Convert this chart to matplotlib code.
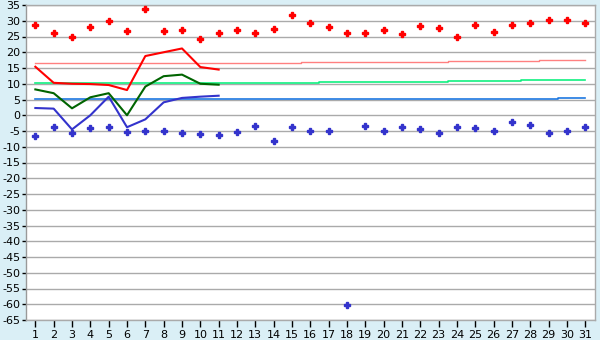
import numpy as np
import matplotlib
matplotlib.use('Agg')
import matplotlib.pyplot as plt

plt.rcParams['axes.unicode_minus'] = False
plt.rcParams['font.family'] = ['DejaVu Sans']

# Days of the month
days = np.arange(1, 32)

# Daily extreme points (max in red, min in blue)
max_pts = [28.5, 26.0, 25.0, 27.9, 30.0, 26.6, 33.6, 26.6, 27.0, 24.1, 26.0,
           27.0, 26.0, 27.3, 31.7, 29.2, 27.9, 26.0, 26.0, 27.0, 25.7, 28.2,
           27.6, 25.0, 28.5, 26.3, 28.5, 29.2, 30.1, 30.1, 29.2]
min_pts = [-6.7, -3.8, -5.7, -4.2, -3.8, -5.4, -5.1, -5.1, -5.7, -6.0, -6.4,
           -5.4, -3.5, -8.3, -3.8, -5.1, -5.1, -60.3, -3.5, -5.1, -3.8, -4.5,
           -5.7, -3.8, -4.2, -5.1, -2.2, -3.2, -5.7, -5.1, -3.8]

# Observed daily values (first 11 days)
obs_days = np.arange(1, 12)
max_line = [15.4, 10.3, 10.0, 9.9, 9.6, 8.0, 18.8, 20.0, 21.2, 15.3, 14.5]
mean_line = [8.2, 7.0, 2.2, 5.7, 7.0, 0.0, 9.1, 12.4, 12.9, 10.0, 9.7]
min_line = [2.3, 2.1, -4.5, 0.0, 5.9, -3.8, -1.3, 4.1, 5.5, 5.9, 6.2]

# Normals
max_norm = [16.6] * 15 + [16.9] * 8 + [17.1] * 5 + [17.4] * 3
mean_norm = [10.3] * 16 + [10.45] * 7 + [10.8] * 4 + [11.2] * 4
min_norm = [5.25] * 29 + [5.5] * 2

yticks = np.arange(-65, 36, 5)

bg = '#daeff6'
fig = plt.figure(figsize=(6, 3.4), dpi=100, facecolor=bg)
ax = fig.add_axes([26/600, 1-320/340, 569/600, 315/340])
ax.set_facecolor('white')

ax.plot(days, max_norm, color='#ff8080', lw=1.0, drawstyle='steps-mid', zorder=2)
ax.plot(days, mean_norm, color='#10f080', lw=1.2, drawstyle='steps-mid', zorder=2)
ax.plot(days, min_norm, color='#1e78e0', lw=1.2, drawstyle='steps-mid', zorder=2)

ax.plot(obs_days, max_line, color='#ff0000', lw=1.5, zorder=3)
ax.plot(obs_days, mean_line, color='#006400', lw=1.5, zorder=3)
ax.plot(obs_days, min_line, color='#3333cc', lw=1.5, zorder=3)

ax.plot(days, max_pts, ls='none', marker='P', ms=3.8, color='#ff0000', zorder=4)
ax.plot(days, min_pts, ls='none', marker='P', ms=3.8, color='#3333cc', zorder=4)

ax.set_xlim(0.49, 31.53)
ax.set_ylim(-65, 35)
ax.set_xticks(days)
ax.set_yticks(yticks)
ax.yaxis.grid(True, color='#aaaaaa', lw=1.0, zorder=0)
ax.set_axisbelow(True)

for s in ax.spines.values():
    s.set_color('#aaaaaa')
    s.set_linewidth(1.0)
ax.spines['left'].set_color('#999999')

ax.tick_params(axis='x', direction='out', length=5, width=1, color='black',
               labelsize=8, pad=2)
ax.tick_params(axis='y', direction='out', length=3, width=1, color='black',
               labelsize=8, pad=1)

fig.savefig('out.png', dpi=100, facecolor=bg)
